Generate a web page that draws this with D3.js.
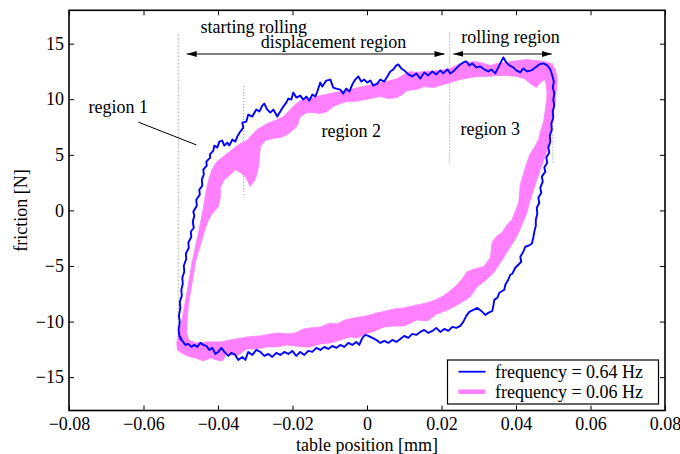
<!DOCTYPE html>
<html>
<head>
<meta charset="utf-8">
<script src="https://cdn.jsdelivr.net/npm/d3@7"></script>
<style>
  body { margin: 0; background: #fff; }
  svg text { font-family: "Liberation Serif", "Times New Roman", serif; }
</style>
</head>
<body>
<svg id="chart" width="680" height="454"></svg>
<script>
// Axis ticks
const xTicks = [-0.08, -0.06, -0.04, -0.02, 0, 0.02, 0.04, 0.06, 0.08];
const yTicks = [-15, -10, -5, 0, 5, 10, 15];

// Series
const seriesNames = ["frequency = 0.64 Hz", "frequency = 0.06 Hz"];

// 0.64 Hz run: [table position mm, friction N], one full cycle
const fastLoop = [
  [-0.04966,-11.65],[-0.05039,-11.29],[-0.05058,-10.75],[-0.05026,-10.03],[-0.05050,-9.49],[-0.05012,-8.77],
  [-0.05026,-8.23],[-0.04972,-7.68],[-0.04985,-7.14],[-0.04945,-6.60],[-0.04958,-6.06],[-0.04905,-5.52],
  [-0.04918,-4.98],[-0.04851,-4.35],[-0.04864,-3.90],[-0.04784,-3.36],[-0.04797,-2.91],[-0.04717,-2.37],
  [-0.04730,-1.92],[-0.04650,-1.56],[-0.04677,-1.02],[-0.04636,-0.48],[-0.04663,-0.12],[-0.04569,0.42],
  [-0.04583,0.96],[-0.04489,1.41],[-0.04502,1.86],[-0.04421,2.23],[-0.04435,2.77],[-0.04381,3.22],
  [-0.04395,3.67],[-0.04301,4.03],[-0.04314,4.39],[-0.04207,4.75],[-0.04220,5.02],[-0.04126,5.38],
  [-0.04099,5.83],[-0.04019,5.65],[-0.03965,6.19],[-0.03885,6.28],[-0.03831,5.83],[-0.03750,6.10],
  [-0.03697,5.83],[-0.03616,6.37],[-0.03536,6.19],[-0.03482,6.64],[-0.03401,7.09],[-0.03321,7.45],
  [-0.03348,7.90],[-0.03240,7.99],[-0.03187,8.62],[-0.03079,8.44],[-0.02972,9.07],[-0.02891,8.89],
  [-0.02811,9.43],[-0.02757,9.61],[-0.02677,9.07],[-0.02596,8.80],[-0.02515,9.07],[-0.02408,8.44],
  [-0.02328,8.89],[-0.02247,9.34],[-0.02166,9.70],[-0.02113,10.06],[-0.02032,9.97],[-0.01979,10.60],
  [-0.01898,10.15],[-0.01791,10.33],[-0.01710,9.97],[-0.01630,10.24],[-0.01549,9.88],[-0.01468,10.42],
  [-0.01388,10.24],[-0.01334,10.69],[-0.01254,11.50],[-0.01200,11.14],[-0.01093,11.68],[-0.00985,11.77],
  [-0.00905,11.05],[-0.00824,10.96],[-0.00717,10.87],[-0.00636,10.51],[-0.00556,10.96],[-0.00475,10.69],
  [-0.00395,11.32],[-0.00314,11.77],[-0.00234,12.05],[-0.00153,11.59],[-0.00072,11.77],[0.00008,11.50],
  [0.00089,11.68],[0.00169,11.23],[0.00277,11.41],[0.00357,11.77],[0.00464,11.59],[0.00545,12.05],
  [0.00626,12.50],[0.00706,12.68],[0.00787,13.04],[0.00840,13.13],[0.00921,12.77],[0.01001,12.59],
  [0.01109,12.23],[0.01216,12.05],[0.01323,12.32],[0.01431,11.86],[0.01538,12.41],[0.01646,12.14],
  [0.01753,12.50],[0.01860,12.23],[0.01968,12.59],[0.02048,12.32],[0.02156,12.68],[0.02236,12.32],
  [0.02344,12.59],[0.02424,12.86],[0.02505,13.13],[0.02585,13.31],[0.02666,13.40],[0.02746,13.04],
  [0.02827,13.22],[0.02934,12.86],[0.03042,12.95],[0.03149,12.68],[0.03256,12.50],[0.03337,12.68],
  [0.03444,12.32],[0.03525,12.86],[0.03605,13.40],[0.03659,13.76],[0.03740,13.31],[0.03820,13.04],
  [0.03927,12.86],[0.04008,12.59],[0.04115,12.41],[0.04196,12.77],[0.04303,12.50],[0.04411,12.59],
  [0.04518,12.86],[0.04626,13.13],[0.04733,13.22],[0.04840,13.04],[0.04921,12.68],[0.04974,12.14],
  [0.05015,11.59],[0.04988,11.05],[0.05028,10.51],[0.05001,9.97],[0.05028,9.43],[0.04988,8.89],
  [0.05001,8.35],[0.04948,7.81],[0.04961,7.27],[0.04907,6.73],[0.04921,6.19],[0.04867,5.65],
  [0.04894,5.20],[0.04813,4.75],[0.04840,4.30],[0.04760,3.85],[0.04787,3.49],[0.04693,3.04],
  [0.04719,2.59],[0.04652,2.05],[0.04679,1.59],[0.04599,1.14],[0.04626,0.69],[0.04558,0.24],
  [0.04572,-0.30],[0.04532,-0.84],[0.04532,-1.38],[0.04491,-1.92],[0.04464,-2.46],[0.04424,-3.00],
  [0.04330,-3.18],[0.04250,-3.27],[0.04196,-3.72],[0.04115,-4.17],[0.04142,-4.62],[0.04035,-4.98],
  [0.03981,-5.16],[0.03901,-5.70],[0.03847,-5.79],[0.03793,-6.24],[0.03713,-6.69],[0.03686,-7.14],
  [0.03552,-7.41],[0.03498,-7.86],[0.03417,-8.05],[0.03391,-8.59],[0.03364,-9.04],[0.03256,-9.22],
  [0.03176,-9.40],[0.03068,-9.04],[0.02961,-8.77],[0.02854,-8.95],[0.02746,-9.13],[0.02666,-9.49],
  [0.02585,-10.03],[0.02505,-10.39],[0.02397,-10.57],[0.02290,-10.48],[0.02183,-10.84],[0.02075,-10.66],
  [0.01968,-10.93],[0.01860,-10.57],[0.01753,-10.84],[0.01646,-11.02],[0.01538,-10.75],[0.01431,-10.93],
  [0.01323,-11.20],[0.01216,-11.11],[0.01109,-11.47],[0.01001,-11.29],[0.00894,-11.56],[0.00787,-11.83],
  [0.00679,-11.65],[0.00572,-11.92],[0.00464,-11.74],[0.00357,-11.92],[0.00250,-11.65],[0.00142,-11.47],
  [0.00035,-11.29],[-0.00046,-11.20],[-0.00126,-11.47],[-0.00207,-12.10],[-0.00287,-11.83],[-0.00395,-12.10],
  [-0.00502,-11.92],[-0.00609,-12.28],[-0.00717,-12.10],[-0.00824,-12.37],[-0.00932,-12.19],[-0.01039,-12.46],
  [-0.01146,-12.28],[-0.01254,-12.55],[-0.01361,-12.37],[-0.01468,-12.73],[-0.01576,-12.64],[-0.01683,-13.00],
  [-0.01791,-12.73],[-0.01898,-13.09],[-0.02005,-12.64],[-0.02113,-12.91],[-0.02220,-12.73],[-0.02328,-13.00],
  [-0.02435,-12.82],[-0.02542,-13.18],[-0.02650,-12.91],[-0.02757,-13.09],[-0.02864,-12.73],[-0.02972,-12.55],
  [-0.03079,-13.00],[-0.03187,-12.73],[-0.03267,-13.45],[-0.03348,-13.18],[-0.03455,-13.45],[-0.03536,-13.00],
  [-0.03643,-12.82],[-0.03723,-13.09],[-0.03831,-12.73],[-0.03911,-12.37],[-0.03992,-12.73],[-0.04072,-12.91],
  [-0.04153,-12.37],[-0.04234,-12.55],[-0.04314,-12.19],[-0.04395,-12.10],[-0.04475,-11.92],[-0.04556,-12.28],
  [-0.04636,-12.10],[-0.04717,-12.28],[-0.04797,-12.01],[-0.04878,-12.10],[-0.04958,-11.74],[-0.05012,-11.56],
  [-0.05026,-11.29]
];

// 0.06 Hz run: the repeated cycles form a band; its outer and inner boundaries
const slowOuter = [
  [-0.05093,-12.55],[-0.05106,-11.92],[-0.05058,-11.02],[-0.04966,-9.85],[-0.04878,-8.23],[-0.04789,-6.51],
  [-0.04698,-4.71],[-0.04623,-3.54],[-0.04564,-2.64],[-0.04475,-1.20],[-0.04387,0.33],[-0.04341,1.32],
  [-0.04295,2.14],[-0.04234,2.95],[-0.04161,3.67],[-0.04027,4.39],[-0.03885,4.75],[-0.03758,5.11],
  [-0.03581,5.56],[-0.03401,6.01],[-0.03221,6.28],[-0.03106,6.73],[-0.02953,7.27],[-0.02811,7.54],
  [-0.02685,7.81],[-0.02462,8.08],[-0.02239,8.44],[-0.02059,9.07],[-0.01952,9.43],[-0.01791,9.88],
  [-0.01611,10.06],[-0.01442,10.15],[-0.01254,10.33],[-0.00985,10.51],[-0.00717,10.69],[-0.00448,10.87],
  [-0.00180,11.10],[0.00089,11.28],[0.00357,11.48],[0.00626,11.68],[0.00813,11.86],[0.01001,12.23],
  [0.01162,12.50],[0.01323,12.41],[0.01538,12.50],[0.01780,12.54],[0.01968,12.59],[0.02236,12.77],
  [0.02505,13.22],[0.02666,13.22],[0.02854,13.40],[0.03042,13.31],[0.03310,13.04],[0.03498,13.22],
  [0.03758,13.31],[0.03954,13.44],[0.04115,13.49],[0.04295,13.58],[0.04464,13.49],[0.04652,13.44],
  [0.04867,13.31],[0.04974,13.13],[0.05055,12.68],[0.05101,11.95],[0.05101,11.23],[0.05068,10.42],
  [0.05055,9.70],[0.05001,9.07],[0.04966,8.53],[0.04948,7.72],[0.04921,7.00],[0.04881,6.10],
  [0.04813,5.20],[0.04733,4.39],[0.04652,3.67],[0.04545,2.59],[0.04438,1.50],[0.04357,0.69],
  [0.04295,-0.21],[0.04169,-1.20],[0.04070,-2.01],[0.03954,-2.73],[0.03847,-3.27],[0.03713,-3.99],
  [0.03579,-4.71],[0.03399,-5.61],[0.03176,-6.33],[0.02953,-6.87],[0.02773,-7.77],[0.02558,-8.23],
  [0.02325,-8.68],[0.02102,-9.04],[0.01879,-9.31],[0.01619,-9.94],[0.01342,-9.85],[0.01001,-10.39],
  [0.00760,-10.39],[0.00446,-10.48],[0.00223,-10.84],[-0.00046,-11.11],[-0.00268,-11.47],[-0.00448,-11.38],
  [-0.00717,-11.65],[-0.00985,-11.92],[-0.01254,-12.01],[-0.01522,-12.28],[-0.01702,-12.28],[-0.01925,-12.19],
  [-0.02148,-12.10],[-0.02435,-12.28],[-0.02685,-12.28],[-0.02972,-12.46],[-0.03221,-12.46],[-0.03455,-13.00],
  [-0.03670,-13.00],[-0.03758,-12.82],[-0.03885,-13.54],[-0.04046,-13.45],[-0.04207,-13.27],[-0.04395,-13.54],
  [-0.04609,-13.27],[-0.04744,-13.18],[-0.04932,-12.91]
];
const slowInner = [
  [-0.04789,-11.65],[-0.04838,-11.02],[-0.04832,-9.85],[-0.04789,-8.41],[-0.04730,-7.14],[-0.04663,-5.88],
  [-0.04609,-4.71],[-0.04521,-3.63],[-0.04430,-2.64],[-0.04354,-1.74],[-0.04252,-0.84],[-0.04153,-0.30],
  [-0.03992,0.33],[-0.03938,1.14],[-0.03938,2.05],[-0.03831,2.77],[-0.03697,3.13],[-0.03536,3.67],
  [-0.03401,3.40],[-0.03267,3.04],[-0.03133,2.16],[-0.02999,2.77],[-0.02910,3.94],[-0.02864,5.74],
  [-0.02730,6.28],[-0.02542,6.46],[-0.02328,6.55],[-0.02140,6.82],[-0.02005,7.18],[-0.01871,7.63],
  [-0.01791,8.44],[-0.01611,8.80],[-0.01442,8.80],[-0.01254,8.71],[-0.01074,8.89],[-0.00905,9.34],
  [-0.00717,9.61],[-0.00537,9.79],[-0.00368,9.79],[-0.00180,9.88],[0.00089,10.06],[0.00357,10.24],
  [0.00572,10.06],[0.00805,10.15],[0.00948,10.42],[0.01074,10.78],[0.01323,10.87],[0.01538,11.14],
  [0.01780,11.05],[0.01968,11.23],[0.02236,11.50],[0.02505,11.77],[0.02773,11.95],[0.02988,12.05],
  [0.03221,12.05],[0.03498,12.14],[0.03758,12.14],[0.04008,12.05],[0.04223,11.86],[0.04384,11.41],
  [0.04545,11.05],[0.04679,11.59],[0.04787,11.77],[0.04832,10.69],[0.04827,9.97],[0.04787,9.07],
  [0.04741,7.99],[0.04666,7.18],[0.04607,6.37],[0.04491,5.65],[0.04370,5.02],[0.04277,4.12],
  [0.04196,3.22],[0.04115,2.32],[0.04070,0.69],[0.03893,-0.84],[0.03758,-1.29],[0.03624,-2.01],
  [0.03490,-2.28],[0.03364,-2.82],[0.03310,-4.26],[0.03130,-5.07],[0.02907,-5.25],[0.02685,-5.52],
  [0.02558,-6.15],[0.02416,-6.69],[0.02236,-7.23],[0.02056,-7.68],[0.01834,-8.05],[0.01611,-8.32],
  [0.01342,-8.50],[0.01001,-8.77],[0.00733,-8.86],[0.00446,-9.10],[0.00268,-9.22],[-0.00019,-9.49],
  [-0.00360,-9.69],[-0.00583,-9.85],[-0.00805,-10.21],[-0.00985,-10.14],[-0.01254,-10.48],[-0.01522,-10.57],
  [-0.01702,-10.66],[-0.01925,-11.02],[-0.02148,-11.11],[-0.02381,-11.02],[-0.02596,-11.11],[-0.02864,-11.29],
  [-0.03221,-11.38],[-0.03401,-11.50],[-0.03670,-11.65],[-0.03938,-11.83],[-0.04295,-11.83],[-0.04583,-11.92]
];

// Region boundaries (position mm, friction span N)
const guideLines = [
  { x: -0.0506, y0: 15.8, y1: -10.4 },
  { x: -0.0331, y0: 11.2, y1: 1.4 },
  { x: 0.0222, y0: 16.0, y1: 4.1 },
  { x: 0.0499, y0: 13.3, y1: 4.2 }
];
const spanArrows = [
  { x0: -0.0484, x1: 0.0208, y: 14.07 },
  { x0: 0.0232, x1: 0.0496, y: 14.07 }
];
const regionLabels = [
  { text: "starting rolling", x: -0.0304, y: 16.0 },
  { text: "displacement region", x: -0.0090, y: 14.6 },
  { text: "rolling region", x: 0.0385, y: 15.05 },
  { text: "region 1", x: -0.0668, y: 8.75 },
  { text: "region 2", x: -0.0042, y: 6.6 },
  { text: "region 3", x: 0.0331, y: 6.8 }
];
const region1Pointer = [[-0.0614, 7.94], [-0.0458, 5.89]];

const svg = d3.select("#chart");
const plotLeft = 69, plotRight = 665, plotTop = 10.3, plotBottom = 410.5;
const x = d3.scaleLinear().domain([-0.08, 0.08]).range([plotLeft, plotRight]);
const y = d3.scaleLinear().domain([-18, 18]).range([plotBottom, plotTop]);
const FONT = '"Liberation Serif", "Times New Roman", serif';
const blue = "#0000ff", pink = "#ff80ff";

const xFmt = d => d === 0 ? "0" : d3.format(".2f")(d);

// axes with inward ticks on all four sides
function styleAxis(g) {
  g.attr("font-family", FONT).attr("font-size", 18);
  g.select(".domain").remove();
  g.selectAll(".tick line").attr("stroke", "#000").attr("stroke-width", 1);
  g.selectAll(".tick text").attr("fill", "#000");
}
svg.append("g").attr("transform", `translate(0,${plotBottom})`)
  .call(d3.axisBottom(x).tickValues(xTicks).tickSizeInner(-5).tickSizeOuter(0).tickPadding(7).tickFormat(xFmt))
  .call(styleAxis);
svg.append("g").attr("transform", `translate(0,${plotTop})`)
  .call(d3.axisTop(x).tickValues(xTicks).tickSizeInner(-5).tickSizeOuter(0).tickFormat(""))
  .call(styleAxis);
svg.append("g").attr("transform", `translate(${plotLeft},0)`)
  .call(d3.axisLeft(y).tickValues(yTicks).tickSizeInner(-5).tickSizeOuter(0).tickPadding(5).tickFormat(d3.format("d")))
  .call(styleAxis);
svg.append("g").attr("transform", `translate(${plotRight},0)`)
  .call(d3.axisRight(y).tickValues(yTicks).tickSizeInner(-5).tickSizeOuter(0).tickFormat(""))
  .call(styleAxis);

// dotted region boundaries
svg.append("g").selectAll("line").data(guideLines).join("line")
  .attr("x1", d => x(d.x)).attr("x2", d => x(d.x))
  .attr("y1", d => y(d.y0)).attr("y2", d => y(d.y1))
  .attr("stroke", (d, i) => i === 0 ? "#bdbdbd" : "#8a8a8a")
  .attr("stroke-width", (d, i) => i === 0 ? 1.5 : 1)
  .attr("stroke-dasharray", (d, i) => i === 0 ? "1.5,2" : "1,2");

// 0.06 Hz band
const ring = d3.line().x(d => x(d[0])).y(d => y(d[1])).curve(d3.curveLinearClosed);
svg.append("path")
  .attr("d", ring(slowOuter) + ring(slowInner))
  .attr("fill", pink).attr("fill-rule", "evenodd")
  .attr("stroke", pink).attr("stroke-width", 0.8);

// 0.64 Hz loop
const line = d3.line().x(d => x(d[0])).y(d => y(d[1]));
svg.append("path").datum(fastLoop)
  .attr("d", line)
  .attr("fill", "none").attr("stroke", blue)
  .attr("stroke-width", 1.9).attr("stroke-linejoin", "round");

// double-headed span arrows
svg.append("defs").append("marker")
  .attr("id", "head").attr("viewBox", "0 0 10 6")
  .attr("refX", 10).attr("refY", 3)
  .attr("markerUnits", "userSpaceOnUse")
  .attr("markerWidth", 10).attr("markerHeight", 6)
  .attr("orient", "auto-start-reverse")
  .append("path").attr("d", "M0,0L10,3L0,6Z").attr("fill", "#000");
svg.append("g").selectAll("line").data(spanArrows).join("line")
  .attr("x1", d => x(d.x0)).attr("x2", d => x(d.x1))
  .attr("y1", d => y(d.y)).attr("y2", d => y(d.y))
  .attr("stroke", "#000").attr("stroke-width", 1)
  .attr("marker-start", "url(#head)").attr("marker-end", "url(#head)");

svg.append("path").datum(region1Pointer).attr("d", line)
  .attr("stroke", "#000").attr("stroke-width", 1).attr("fill", "none");

svg.append("g").selectAll("text").data(regionLabels).join("text")
  .attr("x", d => x(d.x)).attr("y", d => y(d.y))
  .attr("text-anchor", "middle")
  .attr("font-family", FONT).attr("font-size", 18).attr("fill", "#000")
  .text(d => d.text);

// frame
svg.append("rect")
  .attr("x", plotLeft).attr("y", plotTop).attr("width", plotRight - plotLeft).attr("height", plotBottom - plotTop)
  .attr("fill", "none").attr("stroke", "#000").attr("stroke-width", 1.6);

// axis titles
svg.append("text").attr("x", (plotLeft + plotRight) / 2).attr("y", 450.5)
  .attr("text-anchor", "middle").attr("font-family", FONT).attr("font-size", 18)
  .text("table position [mm]");
svg.append("text").attr("transform", `translate(26.5,${(plotTop + plotBottom) / 2}) rotate(-90)`)
  .attr("text-anchor", "middle").attr("font-family", FONT).attr("font-size", 18)
  .text("friction [N]");

// legend
const lg = svg.append("g").attr("transform", "translate(447.5,360)");
lg.append("rect").attr("width", 211).attr("height", 44)
  .attr("fill", "#fff").attr("stroke", "#000").attr("stroke-width", 1.2);
const lgItems = lg.selectAll("g.item").data(seriesNames).join("g")
  .attr("class", "item").attr("transform", (d, i) => `translate(0,${11.7 + i * 20})`);
lgItems.append("line").attr("x1", 11).attr("x2", 38)
  .attr("stroke", (d, i) => i === 0 ? blue : pink)
  .attr("stroke-width", (d, i) => i === 0 ? 1.8 : 4.5);
lgItems.append("text").attr("x", 47.5).attr("dy", "0.34em")
  .attr("font-family", FONT).attr("font-size", 18).text(d => d);
</script>
</body>
</html>
